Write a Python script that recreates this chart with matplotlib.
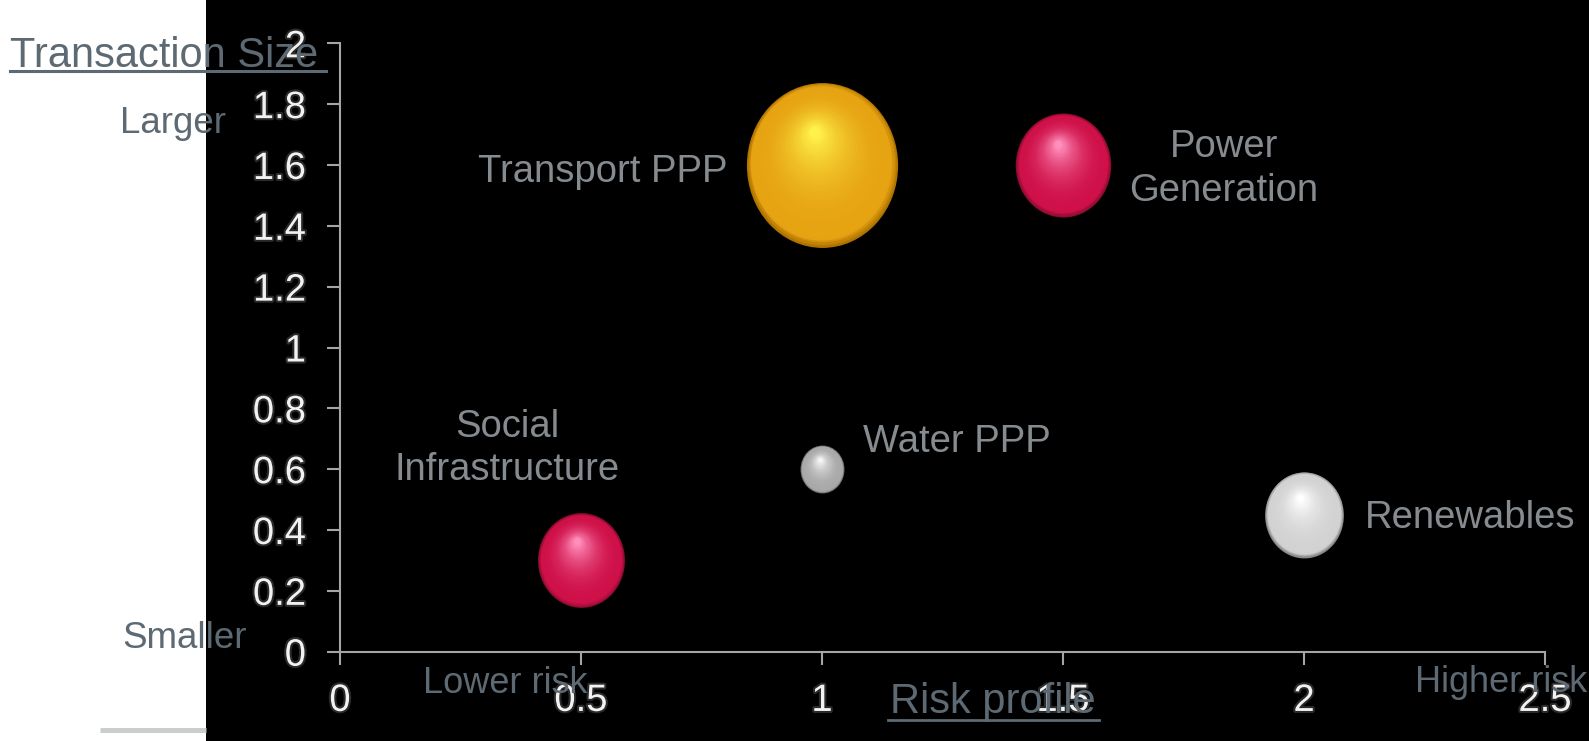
import numpy as np
import matplotlib
matplotlib.use("Agg")
import matplotlib.pyplot as plt
import matplotlib.patheffects as pe
from matplotlib.path import Path
from matplotlib.transforms import Affine2D, ScaledTranslation
from matplotlib.patches import Rectangle
from matplotlib.lines import Line2D
from matplotlib.colors import to_rgb

plt.rcParams['font.family'] = ['Liberation Sans', 'DejaVu Sans']

# data
sectors = ["Social\nInfrastructure", "Water PPP", "Transport PPP", "Power\nGeneration", "Renewables"]
risk = [0.5, 1.0, 1.0, 1.5, 2.0]
txn_size = [0.3, 0.6, 1.6, 1.6, 0.45]
bubble = [3.9, 1.0, 11.8, 4.7, 3.2]
xticks = [0, 0.5, 1, 1.5, 2, 2.5]
xticklabels = ["0", "0.5", "1", "1.5", "2", "2.5"]
yticks = [0, 0.2, 0.4, 0.6, 0.8, 1, 1.2, 1.4, 1.6, 1.8, 2]
yticklabels = ["0", "0.2", "0.4", "0.6", "0.8", "1", "1.2", "1.4", "1.6", "1.8", "2"]

# styles
rim = ['#8a0c30', '#606060', '#b07400', '#8a0c30', '#8a8a8a']
mid = ['#cf1049', '#a9a9a9', '#e6a312', '#cf1049', '#d2d2d2']
hi = ['#ff8fbb', '#f6f6f6', '#fff04a', '#ff8fbb', '#ffffff']
lab_off = [(-53, 80.5), (29.5, 12.2), (-68.4, -12.2), (116, -3), (43.9, -9.4)]
lab_ha = ['center', 'left', 'right', 'center', 'left']
lab_va = ['center', 'baseline', 'baseline', 'center', 'baseline']

W, H = 1589, 741
fig = plt.figure(figsize=(W / 100, H / 100), dpi=100)
fig.add_artist(Rectangle((206 / W, 0), 1 - 206 / W, 1, transform=fig.transFigure,
                         facecolor='black', edgecolor='none', zorder=-10))

ax = fig.add_axes([340 / W, 89.3 / H, 1205 / W, 608.4 / H])
ax.set_facecolor('none')
ax.set_xlim(0, 2.5)
ax.set_ylim(0, 2)
for s in ['top', 'right']:
    ax.spines[s].set_visible(False)
for s in ['left', 'bottom']:
    ax.spines[s].set_color('#a5a5a5')
    ax.spines[s].set_linewidth(1.5)
ax.set_xticks(xticks, xticklabels)
ax.set_yticks(yticks, yticklabels)
glow = [pe.withStroke(linewidth=3, foreground='#2a2a2a')]
ax.tick_params(axis='both', direction='out', length=9.5, width=1.5, color='#a5a5a5',
               labelsize=27.5, labelcolor='#f2f2f2')
ax.tick_params(axis='x', pad=13)
ax.tick_params(axis='y', pad=15)
for lab in ax.get_xticklabels() + ax.get_yticklabels():
    lab.set_path_effects(glow)

# bubbles, shaded with shrinking layers toward the highlight
oval = Path.unit_circle().transformed(Affine2D().scale(1 / 1.09, 1))
n = 45
for i in range(len(risk)):
    d = np.sqrt(bubble[i] * 1194)
    r = d / 2
    c0, c1, c2 = np.array(to_rgb(rim[i])), np.array(to_rgb(mid[i])), np.array(to_rgb(hi[i]))
    for k in range(n):
        t = k / (n - 1)
        f = 1 - 0.93 * t
        if t < 0.07:
            col = c0 + (c1 - c0) * (t / 0.07)
        else:
            col = c1 + (c2 - c1) * ((t - 0.07) / 0.93) ** 2.2
        ox, oy = -0.10 * r * t / 1.09, 0.40 * r * t
        tr = ax.transData + ScaledTranslation(ox / 72, oy / 72, fig.dpi_scale_trans)
        ax.scatter([risk[i]], [txn_size[i]], s=(d * f) ** 2, marker=oval,
                   color=[col], linewidths=0, transform=tr, clip_on=False, zorder=3)
    ax.annotate(sectors[i], (risk[i], txn_size[i]), xytext=lab_off[i],
                textcoords='offset points', ha=lab_ha[i], va=lab_va[i],
                fontsize=27.5, color='#868b90', linespacing=1.27, multialignment='center')

# overlay text on the slide
gray = '#5d6a73'
def ftext(px, py, s, size):
    return fig.text(px / W, 1 - py / H, s, fontsize=size, color=gray, va='baseline', ha='left')

ftext(10, 67, "Transaction Size", 30)
ftext(120, 133, "Larger", 26.5)
ftext(122, 648, "Smaller", 26.5)
ftext(423, 693, "Lower risk", 26)
ftext(1415, 692, "Higher risk", 26)
ftext(890, 713, "Risk profile", 30)
fig.add_artist(Line2D([10 / W, 326 / W], [1 - 71 / H] * 2, transform=fig.transFigure,
                      color=gray, lw=2.2))
fig.add_artist(Line2D([888 / W, 1099 / W], [1 - 720 / H] * 2, transform=fig.transFigure,
                      color=gray, lw=2))
fig.add_artist(Line2D([100 / W, 206 / W], [1 - 730 / H] * 2, transform=fig.transFigure,
                      color='#c9cdcd', lw=3.6, solid_capstyle='butt'))

fig.savefig("out.png", dpi=100)
